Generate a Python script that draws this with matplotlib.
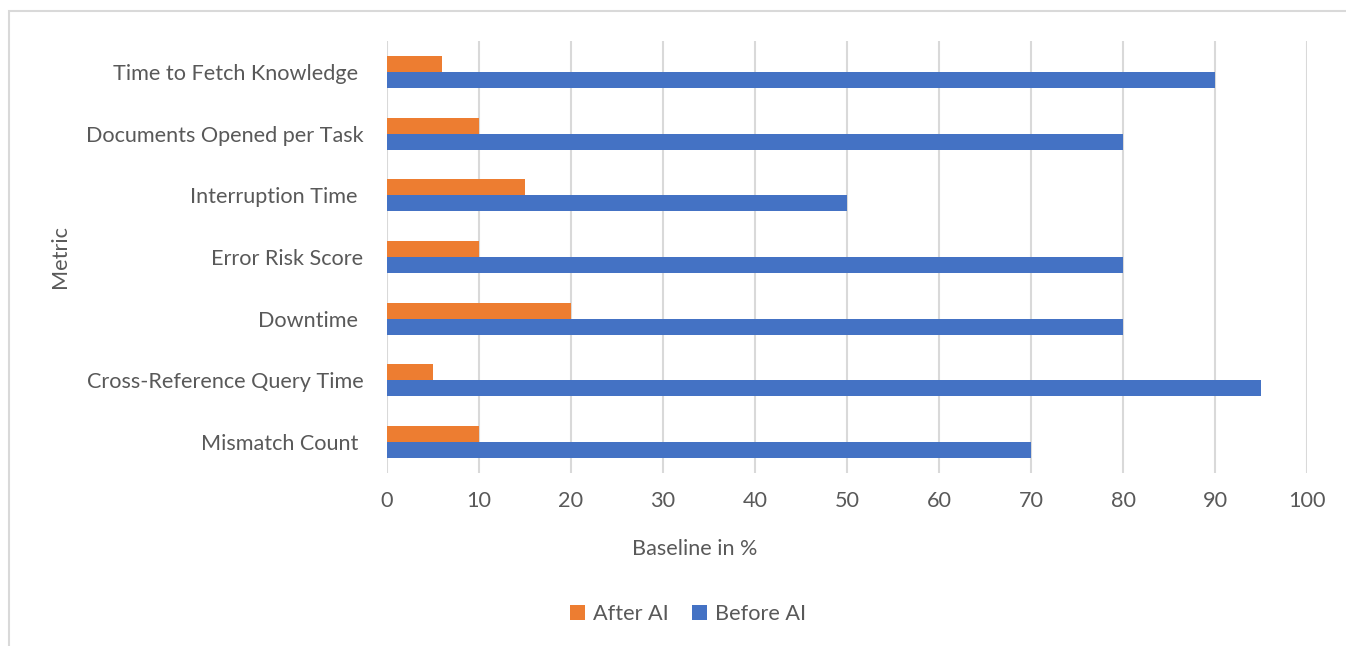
import matplotlib.pyplot as plt
from matplotlib.patches import Rectangle

# data, top to bottom as shown
metrics = ["Time to Fetch Knowledge ", "Documents Opened per Task", "Interruption Time ",
           "Error Risk Score", "Downtime ", "Cross-Reference Query Time", "Mismatch Count "]
after_ai = [6, 10, 15, 10, 20, 5, 10]
before_ai = [90, 80, 50, 80, 80, 95, 70]
x_ticks = [0, 10, 20, 30, 40, 50, 60, 70, 80, 90, 100]

orange = "#ED7D31"
blue = "#4472C4"
grey_txt = "#595959"
fs = 15.6

plt.rcParams['font.family'] = ['Lato', 'DejaVu Sans']

fig = plt.figure(figsize=(13.46, 6.46), dpi=100)
# chart border (only top/left visible in the crop)
fig.patches.append(Rectangle((9 / 1346, -0.1), 1.2, (646 - 11) / 646 + 0.1,
                             transform=fig.transFigure, fill=False,
                             edgecolor="#D9D9D9", linewidth=1.5))

ax = fig.add_axes([387 / 1346, 1 - 473 / 646, (1307 - 387) / 1346, (473 - 41) / 646])

n = len(metrics)
pos = list(range(n))
h = 0.26
ax.barh([p - h / 2 for p in pos], after_ai, height=h, color=orange, label="After AI", zorder=3)
ax.barh([p + h / 2 for p in pos], before_ai, height=h, color=blue, label="Before AI", zorder=3)

ax.set_ylim(n - 0.5, -0.5)
ax.set_xlim(0, 100)
ax.set_xticks(x_ticks)
ax.set_yticks(pos)
ax.set_yticklabels(metrics)
ax.xaxis.grid(True, color="#D9D9D9", linewidth=1.5, zorder=0)
for s in ax.spines.values():
    s.set_visible(False)
ax.tick_params(axis="both", length=0, labelsize=fs, labelcolor=grey_txt)
ax.tick_params(axis="x", pad=13)
ax.tick_params(axis="y", pad=17)

ax.set_xlabel("Baseline in %", fontsize=fs, color=grey_txt, va="center")
ax.xaxis.set_label_coords(695 / 1346, 1 - 549 / 646, transform=fig.transFigure)
ax.set_ylabel("Metric", fontsize=fs, color=grey_txt, va="center")
ax.yaxis.set_label_coords(60 / 1346, 1 - 257 / 646, transform=fig.transFigure)

leg = ax.legend(loc="center", bbox_to_anchor=(688 / 1346, 1 - 614 / 646),
                bbox_transform=fig.transFigure, ncol=2, frameon=False,
                fontsize=fs, handlelength=0.7, handleheight=0.7,
                handletextpad=0.35, columnspacing=1.1)
for t in leg.get_texts():
    t.set_color(grey_txt)

fig.savefig("out.png", dpi=100)
